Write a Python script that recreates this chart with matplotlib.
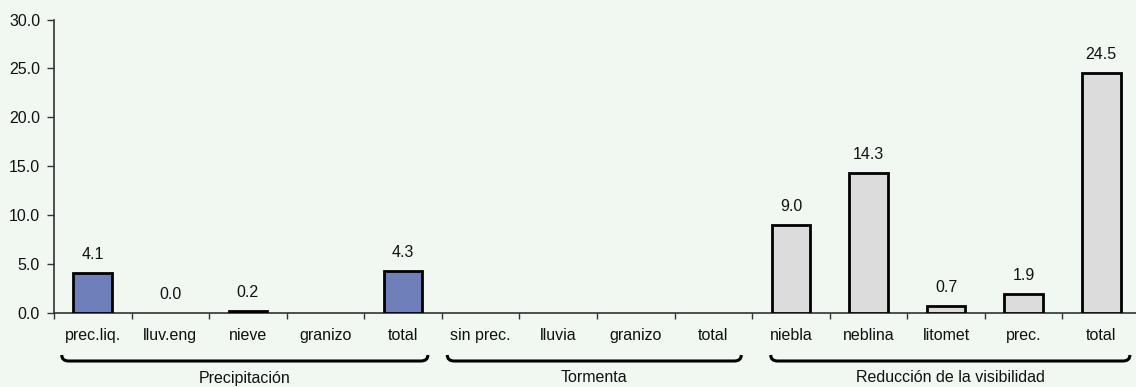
import matplotlib
matplotlib.use("Agg")
import matplotlib.pyplot as plt
from matplotlib.path import Path
from matplotlib.patches import PathPatch
import matplotlib.transforms as mtransforms
import numpy as np

plt.rcParams['font.family'] = ['Liberation Sans', 'DejaVu Sans']

categories = ["prec.liq.", "lluv.eng", "nieve", "granizo", "total",
              "sin prec.", "lluvia", "granizo", "total",
              "niebla", "neblina", "litomet", "prec.", "total"]
values = [4.1, 0.0, 0.2, np.nan, 4.3,
          np.nan, np.nan, np.nan, np.nan,
          9.0, 14.3, 0.7, 1.9, 24.5]
groups = ["Precipitación", "Tormenta", "Reducción de la visibilidad"]
group_sizes = [5, 4, 5]
group_colors = ["#6F7FBA", "#6F7FBA", "#DCDCDC"]
y_ticks = [0.0, 5.0, 10.0, 15.0, 20.0, 25.0, 30.0]

bg = "#F1F8F2"
fs = 11.5
W, H = 1136, 387
fig = plt.figure(figsize=(W / 100, H / 100), dpi=100, facecolor=bg)
slot = 77.57
n = len(categories)
ax = fig.add_axes([54 / W, (H - 313) / H, n * slot / W, (313 - 19.5) / H])
ax.set_facecolor(bg)

colors = []
for g, s in zip(group_colors, group_sizes):
    colors += [g] * s
x = np.arange(n)
for xi, v, c in zip(x, values, colors):
    if np.isnan(v):
        continue
    if v > 0:
        ax.bar(xi, v, width=0.5, color=c, edgecolor="black", linewidth=2, zorder=3)
    ax.annotate(f"{v:.1f}", (xi, v), xytext=(0, 8), textcoords="offset points",
                ha="center", va="bottom", fontsize=fs, color="#111111")

ax.set_xlim(-0.5, n - 0.5)
ax.set_ylim(0, 30)
ax.set_yticks(y_ticks)
ax.set_yticklabels([f"{t:.1f}" for t in y_ticks], fontsize=fs, color="#111111")
ax.tick_params(axis="y", direction="out", length=5, width=1, color="#333333", pad=5)

ax.set_xticks(np.arange(n + 1) - 0.5)
ax.set_xticklabels([])
ax.tick_params(axis="x", which="major", direction="out", length=4, width=1, color="#333333")
ax.set_xticks(x, minor=True)
ax.set_xticklabels(categories, minor=True, fontsize=fs, color="#111111")
ax.tick_params(axis="x", which="minor", length=0, pad=11)

for sp in ["top", "right"]:
    ax.spines[sp].set_visible(False)
for sp in ["left", "bottom"]:
    ax.spines[sp].set_color("#333333")
    ax.spines[sp].set_linewidth(1.2)

# group braces
trans = mtransforms.blended_transform_factory(ax.transData, fig.transFigure)
brace_spans = [(-0.40, 4.32), (4.57, 8.36), (8.74, 13.37)]
ybase = (H - 361) / H
ytop = (H - 355) / H
rx = 0.09
for (x0, x1), name in zip(brace_spans, groups):
    verts = [(x0, ytop), (x0, ybase), (x0 + rx, ybase), (x1 - rx, ybase),
             (x1, ybase), (x1, ytop)]
    codes = [Path.MOVETO, Path.CURVE3, Path.CURVE3, Path.LINETO, Path.CURVE3, Path.CURVE3]
    ax.add_patch(PathPatch(Path(verts, codes), transform=trans, fill=False,
                           edgecolor="black", linewidth=2.2, clip_on=False))
    ax.text((x0 + x1) / 2, (H - 378) / H, name, transform=trans, ha="center",
            va="center", fontsize=fs, color="#111111")

fig.savefig("out.png", dpi=100, facecolor=bg)
